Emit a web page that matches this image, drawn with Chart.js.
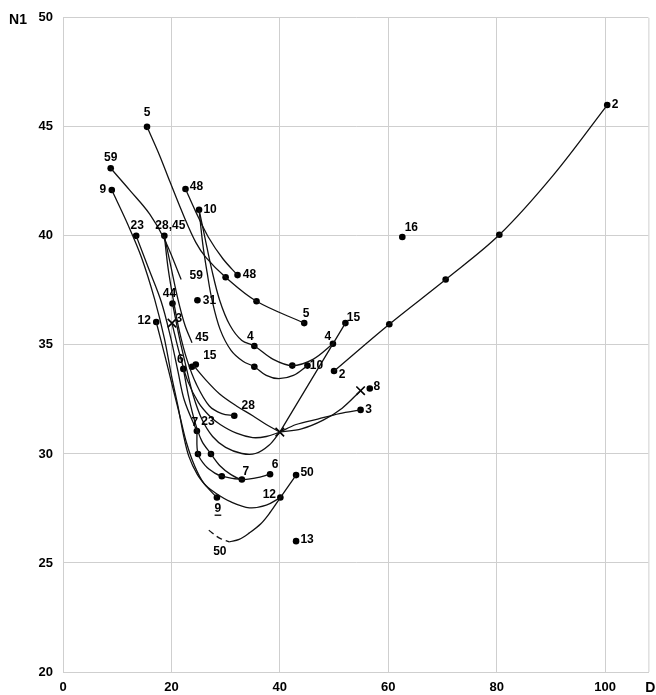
<!DOCTYPE html>
<html>
<head>
<meta charset="utf-8">
<script src="https://cdn.jsdelivr.net/npm/chart.js@4/dist/chart.umd.min.js"></script>
<style>
  html, body { margin: 0; padding: 0; background: #fff; }
  #wrap { width: 656px; height: 695px; }
</style>
</head>
<body>
<div id="wrap"><canvas id="n1Chart" width="656" height="695"></canvas></div>
<script>
// curves (D, N1)
const curve2 = [[100.4, 46], [90.5, 42.8], [80.5, 40.05], [70.6, 38], [60.2, 35.95], [50, 33.8]];
const curve5 = [[15.5, 45], [17.8, 43.7], [19.7, 42.5], [22.3, 40.9], [24.5, 39.7], [26.4, 39.0], [30, 38.1], [35.7, 37], [44.5, 36]];
const curve48 = [[22.6, 42.15], [24.5, 41.1], [26.8, 39.95], [29.5, 38.95], [32.2, 38.2]];
const curve59 = [[8.8, 43.1], [12.3, 42.1], [16, 41.0], [18.8, 39.8], [21.8, 38.0]];
const curve9 = [[9, 42.1], [12, 40.5], [14.5, 39], [16.9, 37.1], [18.7, 35.3], [20, 33.6], [21.2, 32.2], [22.2, 30.9], [23.2, 29.9], [24.8, 29.05], [26.5, 28.5], [28.4, 28.0]];
const curve23 = [[13.5, 40], [15.8, 38.5], [18.1, 37.0], [19.8, 35.4], [21.2, 33.8], [22.4, 32.45], [24.7, 31.05]];
const curve28 = [[18.7, 40], [19.4, 38.5], [20.4, 37.0], [21.5, 35.6], [22.9, 34.3], [24.6, 33.2], [27, 32.2], [29.3, 31.85], [31.6, 31.75]];
const curve45 = [[18.7, 40], [19.9, 38.6], [21.2, 37.1], [22.5, 35.9], [23.8, 35.1]];
const curve44 = [[20.2, 36.9], [21.5, 35.3], [22.8, 33.9], [24, 32.7], [25.6, 31.6], [27.6, 30.8], [30, 30.3], [33, 30.02], [35.5, 30.02], [38, 30.4], [40, 31]];
const curve44b = [[40, 31], [44, 31.15], [48, 31.55], [51.5, 32.1], [54.9, 32.9]];
const curve3 = [[20.1, 36], [21.5, 34.6], [23, 33.35], [25, 32.35], [27, 31.75], [29, 31.35], [32, 30.95], [35, 30.75], [37.5, 30.8], [40, 31]];
const curve3b = [[40, 31], [43, 31.35], [47, 31.6], [51, 31.85], [54.9, 32.02]];
const curve15 = [[24.1, 34.05], [26.5, 33.35], [28.9, 32.75], [32, 32.2], [35, 31.75], [37.5, 31.35], [40, 31]];
const curve15b = [[40, 31], [52.1, 36]];
const curve12 = [[17.2, 36.05], [18.8, 34.5], [20.3, 33], [21.6, 31.7], [22.8, 30.5], [24.2, 29.5], [26, 28.65], [28.2, 28.2], [31, 27.8], [34.4, 27.53], [37.5, 27.65], [40.1, 28.0]];
const curve6 = [[22.2, 33.9], [23.2, 32.6], [24.3, 31.5], [25.6, 30.6], [27.3, 30.0], [29, 29.45], [31, 29.05], [33, 28.83], [35.6, 28.9], [38.2, 29.07]];
const curve7 = [[24.7, 31.05], [24.9, 30.0], [26.3, 29.45], [28, 29.12], [29.3, 28.98], [31.2, 28.88], [33, 28.83]];
const curve10a = [[25.1, 41.2], [26.2, 39.9], [27.4, 38.5], [28.9, 37.05], [30.8, 35.9], [33, 35.2], [35.3, 34.95], [38.7, 34.35], [42.3, 34.05], [46.2, 34.35], [49.8, 35.05]];
const curve10b = [[25.1, 41.2], [25.8, 39.6], [26.6, 38.3], [27.5, 37.05], [29, 35.7], [31, 34.75], [33.2, 34.25], [35.3, 34.0], [37.5, 33.6], [39.8, 33.45], [42.5, 33.6], [45.1, 34.05]];
const curve50dash = [[26.9, 26.5], [28.8, 26.15], [30.7, 25.97]];
const curve50 = [[30.7, 25.97], [32.5, 26.08], [34.4, 26.38], [36.5, 26.8], [38.1, 27.28], [40.1, 28.0], [43, 29.03]];

const solidCurves = [curve2, curve5, curve48, curve59, curve9, curve23, curve28, curve45, curve44, curve44b,
  curve3, curve3b, curve15, curve15b, curve12, curve6, curve7, curve10a, curve10b, curve50];

// measured points
const dots = [
  [100.4, 46], [80.5, 40.05], [70.6, 38], [60.2, 35.95], [50, 33.8], [62.6, 39.95],
  [15.5, 45], [8.8, 43.1], [9, 42.1], [22.6, 42.15], [25.1, 41.2], [13.5, 40], [18.7, 40],
  [30, 38.1], [32.2, 38.2], [35.7, 37], [44.5, 36], [20.2, 36.9], [24.8, 37.05], [17.2, 36.05],
  [35.3, 34.95], [35.3, 34.0], [42.3, 34.05], [45.1, 34.05], [49.8, 35.05], [52.1, 36],
  [22.2, 33.9], [23.8, 34.0], [24.5, 34.1], [31.6, 31.75], [56.6, 33], [54.9, 32.02],
  [24.7, 31.05], [24.9, 30.0], [27.3, 30.0], [29.3, 28.98], [33, 28.83], [38.2, 29.07],
  [43, 29.03], [40.1, 28.0], [28.4, 28.0], [43, 26.0]
];
const crosses = [[20.1, 36], [40, 31], [54.9, 32.9]];

// point labels and where they hang
const labelTexts = ['2', '16', '5', '59', '9', '48', '10', '23', '28,45', '48', '59', '5', '44', '31', '12', '3',
  '45', '4', '10', '4', '15', '6', '15', '2', '8', '3', '28', '7', '23', '7', '6', '50', '12', '9', '13', '50'];
const labelAnchors = [[100.4, 46], [62.6, 39.95], [15.5, 45], [8.8, 43.1], [9, 42.1], [22.6, 42.15], [25.1, 41.2],
  [13.5, 40], [18.7, 40], [32.2, 38.2], [21.8, 38.0], [44.5, 36], [20.2, 36.9], [24.8, 37.05], [17.2, 36.05],
  [20.1, 36], [23.8, 35.1], [35.3, 34.95], [45.1, 34.05], [49.8, 35.05], [52.1, 36], [22.2, 33.9], [24.5, 34.1],
  [50, 33.8], [56.6, 33], [54.9, 32.02], [31.6, 31.75], [24.7, 31.05], [24.7, 31.05], [33, 28.83], [38.2, 29.07],
  [43, 29.03], [40.1, 28.0], [28.4, 28.0], [43, 26.0], [26.9, 26.5]];
const labelOffsets = [[8, 0], [9, -9], [0, -14], [0, -11], [-9, 0], [11, -2], [11, 0], [1, -10], [6, -10], [12, 0],
  [15, -4], [2, -9], [-3, -10], [12, 0], [-12, -1], [7, -4], [10, -5], [-4, -9], [9, 0], [-5, -7], [8, -5],
  [-3, -9], [14, -9], [8, 4], [7, -2], [8, 0], [14, -10], [-2, -8], [11, -9], [4, -8], [5, -10], [11, -2],
  [-11, -3], [1, 11], [11, -1], [11, 21]];
const underlined = [33];

const xTicks = [0, 20, 40, 60, 80, 100];
const yTicks = [20, 25, 30, 35, 40, 45, 50];

const toXY = arr => arr.map(p => ({ x: p[0], y: p[1] }));
const gridColor = '#cfcfcf';
const labelFont = 'bold 12px "Liberation Sans", Arial, sans-serif';

const datasets = [];
solidCurves.forEach(c => {
  datasets.push({
    data: toXY(c), showLine: true, borderColor: '#111', borderWidth: 1.3,
    pointRadius: 0, tension: 0.35, fill: false
  });
});
datasets.push({
  data: toXY(curve50dash), showLine: true, borderColor: '#111', borderWidth: 1.3,
  borderDash: [6, 4], pointRadius: 0, tension: 0.35, fill: false
});
datasets.push({
  data: toXY(dots), showLine: false, pointRadius: 3.3, pointBackgroundColor: '#000',
  pointBorderColor: '#000', pointBorderWidth: 0
});
datasets.push({
  data: toXY(crosses), showLine: false, pointStyle: 'crossRot', pointRadius: 6,
  pointBorderColor: '#000', pointBorderWidth: 1.6
});

const labelPlugin = {
  id: 'pointLabels',
  afterDatasetsDraw(chart) {
    const { ctx, scales: { x, y }, chartArea } = chart;
    ctx.save();
    // right edge of the frame
    ctx.strokeStyle = gridColor;
    ctx.lineWidth = 1;
    ctx.beginPath();
    ctx.moveTo(chartArea.right + 0.5, chartArea.top);
    ctx.lineTo(chartArea.right + 0.5, chartArea.bottom);
    ctx.stroke();

    ctx.fillStyle = '#000';
    ctx.font = labelFont;
    ctx.textAlign = 'center';
    ctx.textBaseline = 'middle';
    labelTexts.forEach((t, i) => {
      const px = x.getPixelForValue(labelAnchors[i][0]) + labelOffsets[i][0];
      const py = y.getPixelForValue(labelAnchors[i][1]) + labelOffsets[i][1];
      ctx.fillText(t, px, py);
      if (underlined.includes(i)) {
        const w = ctx.measureText(t).width;
        ctx.fillRect(px - w / 2, py + 6, w, 1.3);
      }
    });

    ctx.font = 'bold 14px "Liberation Sans", Arial, sans-serif';
    ctx.fillText('N1', chartArea.left - 45, chartArea.top + 2);
    ctx.fillText('D', chartArea.right + 2, chartArea.bottom + 16);
    ctx.restore();
  }
};

new Chart(document.getElementById('n1Chart').getContext('2d'), {
  type: 'scatter',
  data: { datasets },
  options: {
    responsive: false,
    animation: false,
    layout: { padding: { top: 15, right: 6, left: 0, bottom: 0 } },
    scales: {
      x: {
        type: 'linear', min: 0, max: 108,
        afterFit: s => { s.height = 23; },
        afterBuildTicks: s => { s.ticks = xTicks.map(v => ({ value: v })); },
        ticks: { font: { family: '"Liberation Sans", Arial', size: 13, weight: 'bold' }, color: '#000', padding: 8, maxRotation: 0 },
        grid: { color: gridColor, drawTicks: false },
        border: { color: gridColor }
      },
      y: {
        type: 'linear', min: 20, max: 50,
        afterFit: s => { s.width = 63; },
        afterBuildTicks: s => { s.ticks = yTicks.map(v => ({ value: v })); },
        ticks: { font: { family: '"Liberation Sans", Arial', size: 13, weight: 'bold' }, color: '#000', padding: 10 },
        grid: { color: gridColor, drawTicks: false },
        border: { color: gridColor }
      }
    },
    plugins: {
      legend: { display: false },
      tooltip: { enabled: false }
    }
  },
  plugins: [labelPlugin]
});
</script>
</body>
</html>
